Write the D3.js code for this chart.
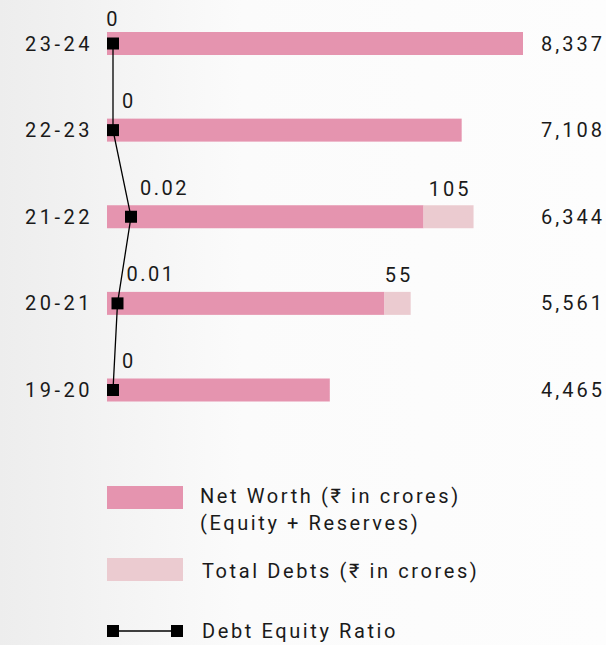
<!DOCTYPE html>
<html>
<head>
<meta charset="utf-8">
<script src="https://cdn.jsdelivr.net/npm/d3@7"></script>
<style>
  body { margin: 0; }
  svg { display: block; font-family: Roboto, "Noto Sans", sans-serif; }
</style>
</head>
<body>
<svg id="chart" width="606" height="645"></svg>
<script>
// Years, top to bottom
var years = ["23-24", "22-23", "21-22", "20-21", "19-20"];
// Net worth (₹ in crores)
var netWorth = [8337, 7108, 6344, 5561, 4465];
// Total debts (₹ in crores), 0 where no debt bar is shown
var totalDebts = [0, 0, 105, 55, 0];
// Debt equity ratio: labels as printed, and values
var ratioLabels = ["0", "0", "0.02", "0.01", "0"];
var ratio = [0, 0, 0.02, 0.005, 0];

var pink = "#e594af";
var lightPink = "#ebcbd0";
var ink = "#1a1a1a";

var svg = d3.select("#chart");

// soft grey fade on the left side
var grad = svg.append("defs").append("linearGradient")
  .attr("id", "bg").attr("x1", "0").attr("x2", "1").attr("y1", "0").attr("y2", "0");
grad.append("stop").attr("offset", "0").attr("stop-color", "#ededed");
grad.append("stop").attr("offset", "0.4").attr("stop-color", "#fbfbfb");
grad.append("stop").attr("offset", "1").attr("stop-color", "#fdfdfd");
svg.append("rect").attr("width", 606).attr("height", 645).attr("fill", "url(#bg)");

var y = d3.scalePoint().domain(years).range([43.5, 390]);
var x = d3.scaleLinear().domain([0, 8337]).range([107, 523]);
var xDebt = d3.scaleLinear().domain([0, 105]).range([0, 50]);
var xRatio = d3.scaleLinear().domain([0, 0.02]).range([113, 131]);
var barH = 23;

var rows = years.map(function(yr, i) {
  return {year: yr, nw: netWorth[i], debt: totalDebts[i], r: ratio[i], rl: ratioLabels[i], i: i};
});

// net worth bars
svg.selectAll(".nw").data(rows).enter().append("rect")
  .attr("x", x(0))
  .attr("y", function(d) { return y(d.year) - barH / 2; })
  .attr("width", function(d) { return x(d.nw) - x(0); })
  .attr("height", barH)
  .attr("fill", pink);

// debt bars stacked on the end
var debtRows = rows.filter(function(d) { return d.debt > 0; });
svg.selectAll(".debt").data(debtRows).enter().append("rect")
  .attr("x", function(d) { return x(d.nw); })
  .attr("y", function(d) { return y(d.year) - barH / 2; })
  .attr("width", function(d) { return xDebt(d.debt); })
  .attr("height", barH)
  .attr("fill", lightPink);

svg.selectAll(".debtLabel").data(debtRows).enter().append("text")
  .attr("x", function(d) { return x(d.nw) + xDebt(d.debt) / 2 + 1.5; })
  .attr("y", function(d) { return y(d.year) - 21; })
  .attr("text-anchor", "middle")
  .style("letter-spacing", "3px")
  .attr("font-size", 20).attr("fill", ink)
  .text(function(d) { return d.debt; });

// year labels
svg.selectAll(".yr").data(rows).enter().append("text")
  .attr("x", 93)
  .attr("y", function(d) { return y(d.year) + 7; })
  .attr("text-anchor", "end")
  .style("letter-spacing", "3.5px")
  .attr("font-size", 20).attr("fill", ink)
  .text(function(d) { return d.year; });

// net worth values on the right
svg.selectAll(".val").data(rows).enter().append("text")
  .attr("x", 541)
  .attr("y", function(d) { return y(d.year) + 7; })
  .style("letter-spacing", "3px")
  .attr("font-size", 20).attr("fill", ink)
  .text(function(d) { return d3.format(",")(d.nw); });

// debt equity ratio line
var line = d3.line()
  .x(function(d) { return xRatio(d.r); })
  .y(function(d) { return y(d.year); });
svg.append("path").datum(rows)
  .attr("d", line)
  .attr("fill", "none")
  .attr("stroke", "#000")
  .attr("stroke-width", 1.3);

svg.selectAll(".pt").data(rows).enter().append("rect")
  .attr("x", function(d) { return xRatio(d.r) - 6; })
  .attr("y", function(d) { return y(d.year) - 6; })
  .attr("width", 12).attr("height", 12)
  .attr("fill", "#000");

svg.selectAll(".rl").data(rows).enter().append("text")
  .attr("x", function(d) { return d.i === 0 ? xRatio(d.r) : xRatio(d.r) + 9; })
  .attr("y", function(d) { return y(d.year) - (d.i === 0 ? 18 : 22); })
  .attr("text-anchor", function(d) { return d.i === 0 ? "middle" : "start"; })
  .style("letter-spacing", "2.5px")
  .attr("font-size", 20).attr("fill", ink)
  .text(function(d) { return d.rl; });

// legend
var legend = svg.append("g").attr("fill", ink).attr("font-size", 20).style("letter-spacing", "2.6px");
legend.append("rect").attr("x", 107).attr("y", 486).attr("width", 76).attr("height", 23).attr("fill", pink);
legend.append("text").attr("x", 200).attr("y", 503).text("Net Worth (₹ in crores)");
legend.append("text").attr("x", 200).attr("y", 530).text("(Equity + Reserves)");

legend.append("rect").attr("x", 107).attr("y", 558).attr("width", 76).attr("height", 23).attr("fill", lightPink);
legend.append("text").attr("x", 202).attr("y", 578).text("Total Debts (₹ in crores)");

legend.append("line").attr("x1", 113).attr("x2", 177).attr("y1", 631).attr("y2", 631)
  .attr("stroke", "#000").attr("stroke-width", 1.3);
legend.append("rect").attr("x", 107).attr("y", 625).attr("width", 12).attr("height", 12).attr("fill", "#000");
legend.append("rect").attr("x", 171).attr("y", 625).attr("width", 12).attr("height", 12).attr("fill", "#000");
legend.append("text").attr("x", 202).attr("y", 638).text("Debt Equity Ratio");
</script>
</body>
</html>
